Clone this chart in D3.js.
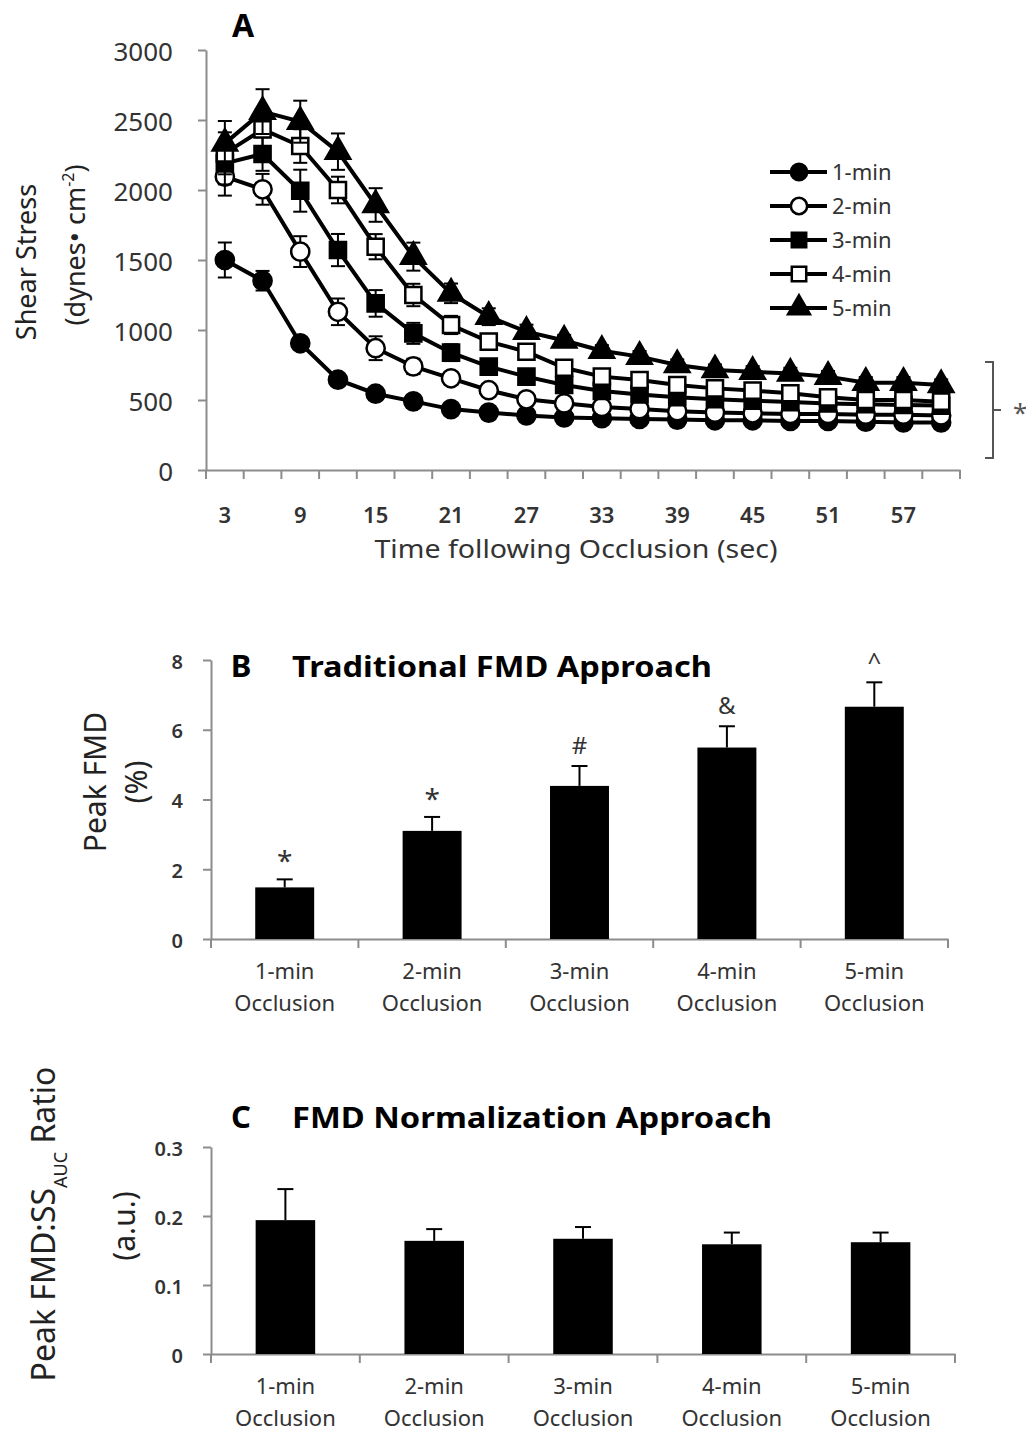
<!DOCTYPE html>
<html>
<head>
<meta charset="utf-8">
<script src="https://cdn.jsdelivr.net/npm/d3@7"></script>
<style>
  body { margin: 0; background: #fff; }
  svg text { font-family: "Noto Sans", "Open Sans", sans-serif; }
</style>
</head>
<body>
<div id="chart"></div>
<script>
// ---- Panel A : shear stress following occlusion ----
const times = [3, 6, 9, 12, 15, 18, 21, 24, 27, 30, 33, 36, 39, 42, 45, 48, 51, 54, 57, 60];
const seriesNames = ["1-min", "2-min", "3-min", "4-min", "5-min"];
const ss1min = [1500, 1352, 905, 645, 545, 490, 435, 410, 390, 375, 370, 365, 360, 355, 355, 350, 350, 345, 340, 340];
const ss2min = [2095, 2005, 1560, 1130, 870, 740, 655, 570, 505, 476, 450, 435, 420, 410, 405, 400, 400, 395, 395, 390];
const ss3min = [2190, 2257, 1995, 1571, 1190, 976, 838, 738, 667, 607, 565, 540, 520, 505, 495, 485, 475, 470, 465, 460];
const ss4min = [2262, 2433, 2314, 2000, 1595, 1250, 1036, 917, 845, 730, 667, 643, 607, 583, 567, 548, 519, 500, 500, 488];
const ss5min = [2333, 2560, 2488, 2274, 1893, 1524, 1262, 1095, 988, 925, 852, 810, 750, 714, 702, 690, 667, 624, 624, 607];
const err1min = [125, 70, 40, 35, 30, 25, 20, 20, 20, 20, 20, 20, 20, 20, 20, 20, 20, 20, 20, 20];
const err2min = [135, 110, 110, 95, 85, 55, 40, 35, 30, 30, 25, 25, 25, 25, 25, 25, 25, 25, 25, 25];
const err3min = [150, 120, 150, 115, 95, 75, 60, 50, 40, 35, 30, 30, 30, 30, 30, 30, 30, 30, 30, 30];
const err4min = [150, 120, 120, 95, 90, 80, 65, 55, 45, 40, 35, 35, 35, 35, 35, 35, 35, 35, 35, 35];
const err5min = [160, 160, 150, 130, 120, 100, 70, 60, 50, 40, 40, 40, 40, 40, 40, 40, 40, 40, 40, 40];
const yTicksA = [0, 500, 1000, 1500, 2000, 2500, 3000];
const xLabelsA = [3, 9, 15, 21, 27, 33, 39, 45, 51, 57];

// ---- Panel B : traditional FMD ----
const groups = ["1-min", "2-min", "3-min", "4-min", "5-min"];
const fmdMean = [1.48, 3.10, 4.39, 5.49, 6.66];
const fmdErr = [0.23, 0.40, 0.57, 0.61, 0.70];
const fmdMarks = ["*", "*", "#", "&", "^"];
const yTicksB = [0, 2, 4, 6, 8];

// ---- Panel C : normalised FMD ----
const ratioMean = [0.194, 0.164, 0.167, 0.159, 0.162];
const ratioErr = [0.045, 0.017, 0.017, 0.017, 0.014];
const yTicksC = [0, 0.1, 0.2, 0.3];

const W = 1026, H = 1433;
const axisColor = "#8c8c8c";
const labelColor = "#333";

const svg = d3.select("#chart").append("svg")
	.attr("width", W)
	.attr("height", H)
	.style("background", "#fff");

// ================= Panel A =================
const xA = d3.scaleBand().domain(times).range([206, 960]);
const yA = d3.scaleLinear().domain([0, 3000]).range([470, 50]);
const bw = xA.bandwidth();

const yAxisA = svg.append("g")
	.attr("transform", "translate(206,0)")
	.call(d3.axisLeft(yA).tickValues(yTicksA).tickFormat(d3.format("d"))
		.tickSize(8).tickSizeOuter(0).tickPadding(25));
yAxisA.selectAll("text")
	.attr("font-size", "26px")
	.attr("fill", labelColor)
	.attr("dy", "0.42em");

const xAxisA = svg.append("g")
	.attr("transform", "translate(0,470)")
	.call(d3.axisBottom(xA).tickValues(xLabelsA).tickSize(0).tickPadding(37));
xAxisA.selectAll("text")
	.attr("font-size", "22px")
	.attr("font-weight", "600")
	.attr("fill", labelColor);
// category tick marks sit between the categories (Excel style)
xAxisA.selectAll(".between")
	.data(times.map(t => xA(t)).concat([xA.range()[1]]))
	.join("line")
	.attr("class", "between")
	.attr("x1", d => d).attr("x2", d => d)
	.attr("y1", 0).attr("y2", 9)
	.attr("stroke", axisColor).attr("stroke-width", 2);

[yAxisA, xAxisA].forEach(a => {
	a.selectAll(".domain").attr("stroke", axisColor).attr("stroke-width", 2);
	a.selectAll(".tick line").attr("stroke", axisColor).attr("stroke-width", 2);
});

const seriesData = [ss1min, ss2min, ss3min, ss4min, ss5min];
const seriesErr = [err1min, err2min, err3min, err4min, err5min];
const shapes = [
	{ type: d3.symbolCircle, size: 260, fill: "#000" },
	{ type: d3.symbolCircle, size: 260, fill: "#fff" },
	{ type: d3.symbolSquare, size: 260, fill: "#000" },
	{ type: d3.symbolSquare, size: 260, fill: "#fff" },
	{ type: d3.symbolTriangle, size: 260, fill: "#000" }
];

const line = d3.line()
	.x(d => xA(d.t) + bw / 2)
	.y(d => yA(d.v));

seriesData.forEach((vals, s) => {
	const pts = vals.map((v, i) => ({ t: times[i], v: v, e: seriesErr[s][i] }));
	const g = svg.append("g");

	// error bars
	const eb = g.selectAll(".eb").data(pts).join("g").attr("class", "eb")
		.attr("stroke", "#000").attr("stroke-width", 2);
	eb.append("line")
		.attr("x1", d => xA(d.t) + bw / 2).attr("x2", d => xA(d.t) + bw / 2)
		.attr("y1", d => yA(d.v - d.e)).attr("y2", d => yA(d.v + d.e));
	eb.append("line")
		.attr("x1", d => xA(d.t) + bw / 2 - 7).attr("x2", d => xA(d.t) + bw / 2 + 7)
		.attr("y1", d => yA(d.v + d.e)).attr("y2", d => yA(d.v + d.e));
	eb.append("line")
		.attr("x1", d => xA(d.t) + bw / 2 - 7).attr("x2", d => xA(d.t) + bw / 2 + 7)
		.attr("y1", d => yA(d.v - d.e)).attr("y2", d => yA(d.v - d.e));

	g.append("path")
		.datum(pts)
		.attr("d", line)
		.attr("fill", "none")
		.attr("stroke", "#000")
		.attr("stroke-width", 4);

	g.selectAll(".pt").data(pts).join("path").attr("class", "pt")
		.attr("transform", d => "translate(" + (xA(d.t) + bw / 2) + "," + yA(d.v) + ")")
		.attr("d", d3.symbol().type(shapes[s].type).size(shapes[s].size))
		.attr("fill", shapes[s].fill)
		.attr("stroke", "#000")
		.attr("stroke-width", 2.5);
});

// legend
const legend = svg.append("g").attr("transform", "translate(770,172)");
seriesNames.forEach((name, i) => {
	const row = legend.append("g").attr("transform", "translate(0," + i * 34 + ")");
	row.append("line").attr("x1", 0).attr("x2", 57).attr("y1", 0).attr("y2", 0)
		.attr("stroke", "#000").attr("stroke-width", 4);
	row.append("path")
		.attr("transform", "translate(29,0)")
		.attr("d", d3.symbol().type(shapes[i].type).size(shapes[i].size * 0.8))
		.attr("fill", shapes[i].fill).attr("stroke", "#000").attr("stroke-width", 2.5);
	row.append("text").attr("x", 62).attr("y", 8)
		.attr("font-size", "22px").attr("fill", labelColor).text(name);
});

// bracket with asterisk
svg.append("path")
	.attr("d", "M985,362H993V458H985M993,410H1001")
	.attr("fill", "none").attr("stroke", "#555").attr("stroke-width", 2);
svg.append("text").attr("x", 1013).attr("y", 422)
	.attr("font-size", "26px").attr("fill", "#555").text("*");

svg.append("text").attr("x", 243).attr("y", 37).attr("text-anchor", "middle")
	.attr("font-size", "32px").attr("font-weight", "bold").text("A");

// axis titles A
svg.append("text")
	.attr("transform", "translate(36,262) rotate(-90)")
	.attr("text-anchor", "middle").attr("font-size", "27px").attr("fill", "#222")
	.text("Shear Stress");
const dyn = svg.append("text")
	.attr("transform", "translate(85,245) rotate(-90)")
	.attr("text-anchor", "middle").attr("font-size", "27px").attr("fill", "#222");
dyn.append("tspan").text("(dynes\u2022 cm");
dyn.append("tspan").attr("font-size", "16px").attr("baseline-shift", "super").text("-2");
dyn.append("tspan").text(")");

svg.append("text").attr("x", 576).attr("y", 558).attr("text-anchor", "middle")
	.attr("font-size", "26px").attr("fill", labelColor)
	.attr("textLength", 403).attr("lengthAdjust", "spacingAndGlyphs")
	.text("Time following Occlusion (sec)");

// ================= Panels B and C =================
function barPanel(opts) {
	const x = d3.scaleBand().domain(groups).range(opts.xRange).paddingInner(0.6).paddingOuter(0.3);
	const y = d3.scaleLinear().domain(opts.yDomain).range(opts.yRange);
	const x0 = opts.xRange[0], base = opts.yRange[0];

	const ya = svg.append("g")
		.attr("transform", "translate(" + x0 + ",0)")
		.call(d3.axisLeft(y).tickValues(opts.ticks).tickSize(8).tickSizeOuter(0).tickPadding(20)
			.tickFormat(opts.fmt));
	ya.selectAll("text").attr("font-size", "20px").attr("font-weight", "600").attr("fill", labelColor)
		.attr("dy", "0.4em");

	const xa = svg.append("g")
		.attr("transform", "translate(0," + base + ")")
		.call(d3.axisBottom(x).tickSize(0).tickFormat(""));
	const bounds = groups.map(g => x(g) + x.bandwidth() / 2 - x.step() / 2).concat([opts.xRange[1]]);
	xa.selectAll(".between").data(bounds).join("line").attr("class", "between")
		.attr("x1", d => d).attr("x2", d => d).attr("y1", 0).attr("y2", 9)
		.attr("stroke", axisColor).attr("stroke-width", 2);

	[ya, xa].forEach(a => {
		a.selectAll(".domain").attr("stroke", axisColor).attr("stroke-width", 2);
		a.selectAll(".tick line").attr("stroke", axisColor).attr("stroke-width", 2);
	});

	const d = groups.map((g, i) => ({ g: g, m: opts.mean[i], e: opts.err[i] }));
	const cx = g => x(g) + x.bandwidth() / 2;

	// error bars (upper only)
	svg.append("g").selectAll("g").data(d).join("g")
		.each(function (r) {
			const s = d3.select(this);
			s.append("line").attr("x1", cx(r.g)).attr("x2", cx(r.g))
				.attr("y1", y(r.m)).attr("y2", y(r.m + r.e))
				.attr("stroke", "#000").attr("stroke-width", 2);
			s.append("line").attr("x1", cx(r.g) - 8).attr("x2", cx(r.g) + 8)
				.attr("y1", y(r.m + r.e)).attr("y2", y(r.m + r.e))
				.attr("stroke", "#000").attr("stroke-width", 2);
		});

	svg.append("g").selectAll("rect").data(d).join("rect")
		.attr("x", r => x(r.g))
		.attr("y", r => y(r.m))
		.attr("width", x.bandwidth())
		.attr("height", r => base - y(r.m))
		.attr("fill", "#000");

	if (opts.marks) {
		svg.append("g").selectAll("text").data(d).join("text")
			.attr("x", r => cx(r.g))
			.attr("y", (r, i) => y(r.m + r.e) - (opts.marks[i] === "*" ? 8 : 12))
			.attr("text-anchor", "middle")
			.attr("font-size", (r, i) => opts.marks[i] === "*" ? "28px" : "24px")
			.attr("fill", labelColor)
			.text((r, i) => opts.marks[i]);
	}

	const lab = svg.append("g").selectAll("text").data(groups).join("text")
		.attr("text-anchor", "middle")
		.attr("font-size", "22px")
		.attr("fill", labelColor);
	lab.append("tspan").attr("x", g => cx(g)).attr("y", base + 40).text(g => g);
	lab.append("tspan").attr("x", g => cx(g)).attr("y", base + 72).text("Occlusion");

	svg.append("text").attr("x", 241).attr("y", opts.titleY).attr("text-anchor", "middle")
		.attr("font-size", "31px").attr("font-weight", "bold").text(opts.letter);
	svg.append("text").attr("x", 292).attr("y", opts.titleY)
		.attr("font-size", "28px").attr("font-weight", "bold")
		.attr("textLength", opts.titleLen).attr("lengthAdjust", "spacingAndGlyphs")
		.text(opts.title);
}

barPanel({
	xRange: [211, 948], yDomain: [0, 8], yRange: [939, 660], ticks: yTicksB,
	fmt: d3.format("d"), mean: fmdMean, err: fmdErr, marks: fmdMarks,
	letter: "B", title: "Traditional FMD Approach", titleY: 677, titleLen: 420
});
barPanel({
	xRange: [211, 955], yDomain: [0, 0.3], yRange: [1354, 1147], ticks: yTicksC,
	fmt: d => d === 0 ? "0" : d3.format(".1f")(d), mean: ratioMean, err: ratioErr, marks: null,
	letter: "C", title: "FMD Normalization Approach", titleY: 1128, titleLen: 480
});

// y titles B and C
svg.append("text").attr("transform", "translate(106,782) rotate(-90)")
	.attr("text-anchor", "middle").attr("font-size", "30px").attr("fill", "#222")
	.text("Peak FMD");
svg.append("text").attr("transform", "translate(147,782) rotate(-90)")
	.attr("text-anchor", "middle").attr("font-size", "30px").attr("fill", "#222")
	.text("(%)");

const ratioLab = svg.append("text").attr("transform", "translate(55,1224) rotate(-90)")
	.attr("text-anchor", "middle").attr("font-size", "32px").attr("fill", "#222");
ratioLab.append("tspan").text("Peak FMD:SS");
ratioLab.append("tspan").attr("font-size", "18px").attr("dy", 12).text("AUC");
ratioLab.append("tspan").attr("dy", -12).text(" Ratio");
svg.append("text").attr("transform", "translate(135,1226) rotate(-90)")
	.attr("text-anchor", "middle").attr("font-size", "30px").attr("fill", "#222")
	.text("(a.u.)");
</script>
</body>
</html>
